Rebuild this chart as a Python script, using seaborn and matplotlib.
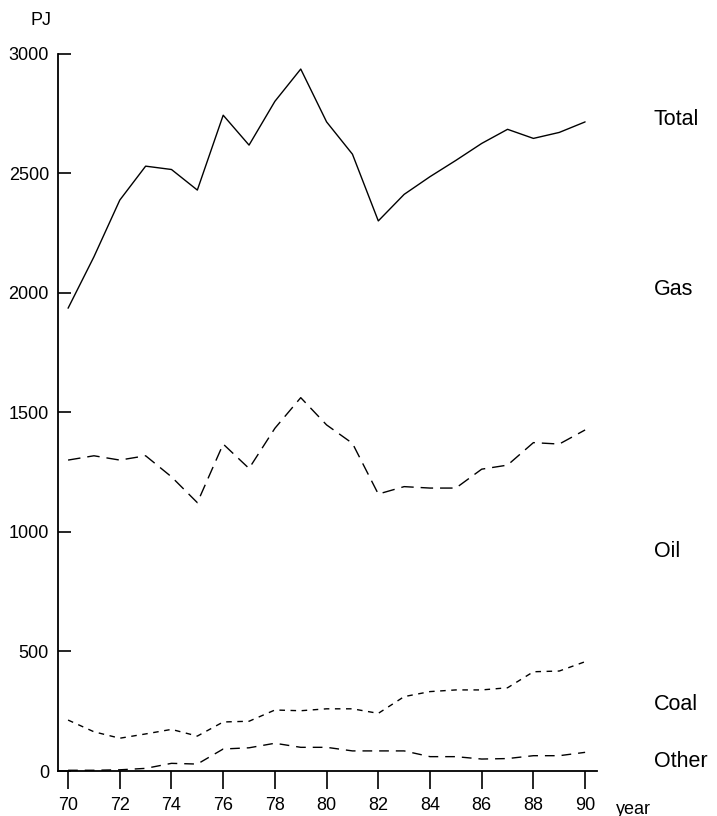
import matplotlib
matplotlib.use("Agg")
import matplotlib.pyplot as plt
import seaborn as sns
import pandas as pd

# Annual primary energy supply, cumulative (PJ)
years = list(range(70, 91))
total = [1935, 2150, 2387, 2529, 2515, 2429, 2742, 2617, 2800, 2935, 2714,
         2579, 2300, 2411, 2485, 2553, 2624, 2683, 2645, 2670, 2714]
oil_coal_other = [1300, 1318, 1300, 1318, 1230, 1122, 1367, 1265, 1433, 1561, 1447,
                  1370, 1158, 1189, 1183, 1183, 1262, 1279, 1373, 1367, 1426]
coal_other = [213, 164, 137, 155, 174, 146, 205, 208, 255, 252, 260,
              260, 241, 311, 332, 339, 339, 348, 415, 418, 457]
other = [3, 3, 5, 11, 32, 29, 92, 97, 116, 99, 99,
         84, 84, 84, 60, 60, 50, 52, 64, 64, 78]

band_labels = ["Total", "Gas", "Oil", "Coal", "Other"]
y_ticks = [0, 500, 1000, 1500, 2000, 2500, 3000]
x_ticks = [70, 72, 74, 76, 78, 80, 82, 84, 86, 88, 90]

sns.set_theme(style="white")
plt.rcParams["font.family"] = ["Liberation Sans", "DejaVu Sans"]
plt.rcParams["text.color"] = "black"

W, H = 717, 816
fig = plt.figure(figsize=(W / 100, H / 100), dpi=100)
ax = fig.add_axes([58 / W, (H - 771) / H, (597 - 58) / W, (771 - 53.5) / H])

df = pd.DataFrame({"year": years, "total": total, "gas": oil_coal_other,
                   "coal": coal_other, "other": other})

sns.lineplot(data=df, x="year", y="total", ax=ax, color="black", lw=1.0)
sns.lineplot(data=df, x="year", y="gas", ax=ax, color="black", lw=1.0,
             linestyle=(0, (9, 5)))
sns.lineplot(data=df, x="year", y="coal", ax=ax, color="black", lw=1.0,
             linestyle=(0, (4, 4)))
sns.lineplot(data=df, x="year", y="other", ax=ax, color="black", lw=1.0,
             linestyle=(0, (7, 5)))

ax.set_xlim(69.61, 90.46)
ax.set_ylim(0, 3000)
ax.set_xticks(x_ticks)
ax.set_xticklabels([str(t) for t in x_ticks])
ax.set_yticks(y_ticks)
ax.set_yticklabels([str(t) for t in y_ticks])
ax.set_xlabel("")
ax.set_ylabel("")

for side in ["top", "right"]:
    ax.spines[side].set_visible(False)
for side in ["left", "bottom"]:
    ax.spines[side].set_color("black")
    ax.spines[side].set_linewidth(1.3)

ax.tick_params(axis="y", direction="in", length=9.5, width=1.2, pad=6.5,
               labelsize=13, colors="black", labelcolor="black", left=True)
ax.tick_params(axis="x", direction="out", length=13, width=1.2, pad=6,
               labelsize=13, colors="black", labelcolor="black", bottom=True)

# axis captions and band labels
fig.text(31 / W, 1 - 20.5 / H, "PJ", fontsize=13, va="center", ha="left")
fig.text(616 / W, 1 - 809 / H, "year", fontsize=13, va="center", ha="left")
label_y = [119.5, 289, 551.7, 704, 761.7]
for name, yp in zip(band_labels, label_y):
    fig.text(654 / W, 1 - yp / H, name, fontsize=15.5, va="center", ha="left")

fig.savefig("out.png", dpi=100, facecolor="white")
